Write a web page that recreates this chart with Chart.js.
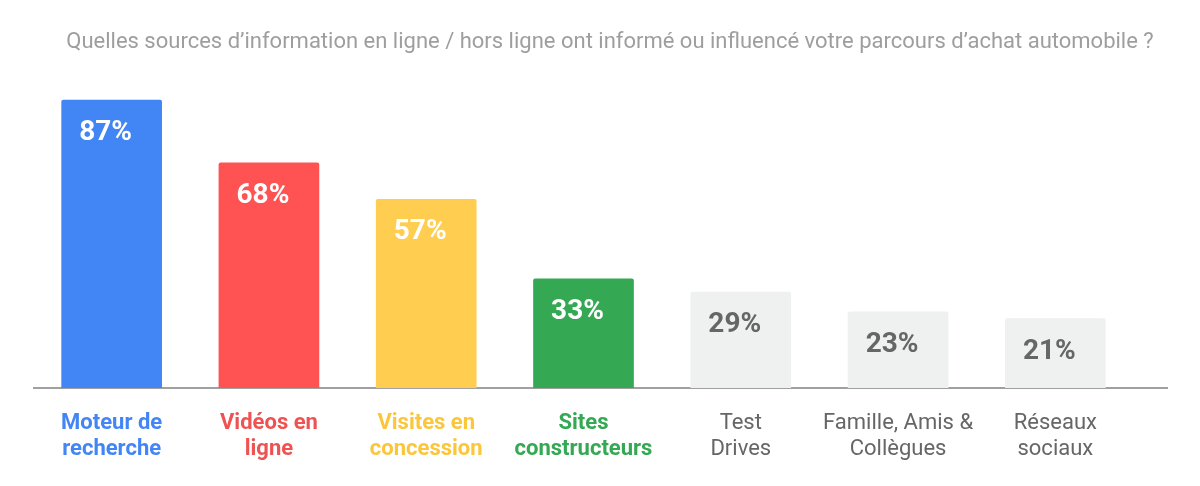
<!DOCTYPE html>
<html>
<head>
<meta charset="utf-8">
<script src="https://cdn.jsdelivr.net/npm/chart.js@4"></script>
<style>
  body { margin: 0; background: #fff; }
  #wrap { width: 1200px; height: 486px; position: relative; }
</style>
</head>
<body>
<div id="wrap"><canvas id="myChart"></canvas></div>
<script>
const titre = 'Quelles sources d\u2019information en ligne / hors ligne ont informé ou influencé votre parcours d\u2019achat automobile ?';
const categories = [
    ['Moteur de', 'recherche'],
    ['Vidéos en', 'ligne'],
    ['Visites en', 'concession'],
    ['Sites', 'constructeurs'],
    ['Test', 'Drives'],
    ['Famille, Amis &', 'Collègues'],
    ['Réseaux', 'sociaux']
];
const valeurs = [87, 68, 57, 33, 29, 23, 21];
const couleursBarres = ['#4285F4', '#FF5252', '#FFCD50', '#34A853', '#EFF0F0', '#EFF0F0', '#EFF0F0'];
const couleursTexte = ['#4285F4', '#EE5252', '#FBC63A', '#34A853', '#666666', '#666666', '#666666'];
const couleursValeurs = ['#ffffff', '#ffffff', '#ffffff', '#ffffff', '#666666', '#666666', '#666666'];

// titre, ligne de base + étiquettes de valeur dans les barres
const pluginEtiquettes = {
    id: 'etiquettes',
    beforeDatasetsDraw(chart) {
        const ctx = chart.ctx;
        const y0 = chart.scales.y.getPixelForValue(0);
        ctx.save();
        ctx.strokeStyle = '#a0a0a0';
        ctx.lineWidth = 2;
        ctx.beginPath();
        ctx.moveTo(chart.chartArea.left, y0);
        ctx.lineTo(chart.width - 32, y0);
        ctx.stroke();

        ctx.font = '22px Roboto';
        ctx.fillStyle = '#9E9E9E';
        ctx.textAlign = 'center';
        ctx.textBaseline = 'middle';
        ctx.fillText(titre, chart.width / 2 + 10, 42);
        ctx.restore();
    },
    afterDatasetsDraw(chart) {
        const ctx = chart.ctx;
        const meta = chart.getDatasetMeta(0);
        ctx.save();
        ctx.font = 'bold 28px Roboto';
        ctx.textAlign = 'center';
        ctx.textBaseline = 'middle';
        meta.data.forEach((bar, i) => {
            ctx.fillStyle = couleursValeurs[i];
            ctx.fillText(valeurs[i] + '%', bar.x - 6, bar.y + 33);
        });
        ctx.restore();
    }
};

const ctx = document.getElementById('myChart').getContext('2d');
const myChart = new Chart(ctx, {
    type: 'bar',
    data: {
        labels: categories,
        datasets: [{
            data: valeurs,
            backgroundColor: couleursBarres,
            barThickness: 100,
            borderRadius: { topLeft: 2, topRight: 2 },
            borderSkipped: 'bottom'
        }]
    },
    options: {
        responsive: true,
        maintainAspectRatio: false,
        animation: false,
        layout: {
            padding: { left: 33, right: 66, top: 57, bottom: 2 }
        },
        plugins: {
            legend: { display: false },
            tooltip: { enabled: false },
            title: { display: false }
        },
        scales: {
            x: {
                grid: { display: false, drawTicks: false },
                border: { display: false },
                ticks: {
                    padding: 22,
                    maxRotation: 0,
                    autoSkip: false,
                    color: (c) => couleursTexte[c.index],
                    font: (c) => ({
                        family: 'Roboto',
                        size: 22,
                        weight: c.index < 4 ? 'bold' : 'normal',
                        lineHeight: 1.18
                    })
                }
            },
            y: {
                display: false,
                min: 0,
                max: 100
            }
        }
    },
    plugins: [pluginEtiquettes]
});
</script>
</body>
</html>
